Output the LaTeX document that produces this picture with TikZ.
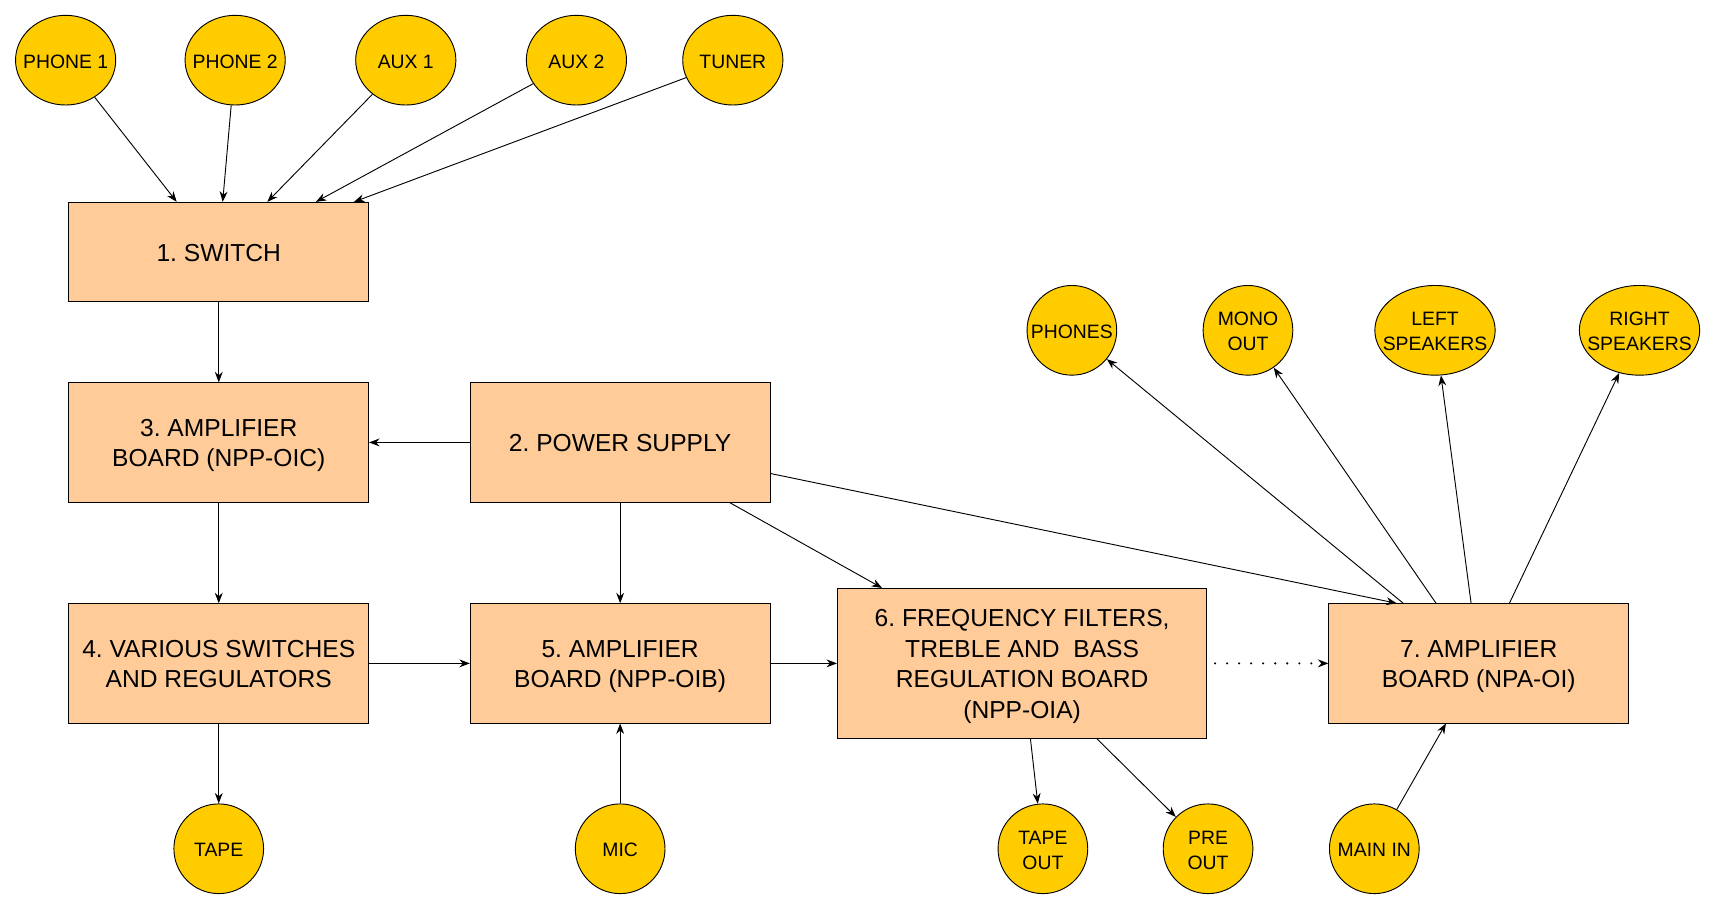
\documentclass[tikz,border=0pt]{standalone}
\usepackage{fontspec}
\setmainfont{Liberation Sans}
\usepackage{tikz}
\usetikzlibrary{arrows.meta, shapes.geometric}

\definecolor{boxfill}{HTML}{FFCC99}
\definecolor{portfill}{HTML}{FFCC00}
\frenchspacing

% centred lines, set a little low as in the drawing
\newcommand{\lines}[1]{\raisebox{-0.7mm}[\height][\depth]{\begin{tabular}{@{}c@{}}#1\end{tabular}}}
% text of an oval, kept from widening the oval
\newcommand{\portname}[1]{\makebox[0pt]{\lines{#1}}}

\begin{document}
\begin{tikzpicture}[x=0.25mm, y=-0.25mm, line width=0.6pt,
    block/.style={draw, fill=boxfill, inner sep=0pt, minimum width=68.5mm,
      minimum height=27.25mm, font=\fontsize{16}{19.8}\selectfont},
    port/.style={ellipse, draw, fill=portfill, inner sep=0pt, minimum width=20.5mm,
      minimum height=20.5mm, font=\fontsize{12.6}{16.3}\selectfont},
    wide/.style={minimum width=22.9mm},
    wider/.style={minimum width=27.5mm},
    link/.style={-{Stealth[length=2.4mm, width=1.8mm]}},
    dots/.style={line width=1.5pt, line cap=round, dash pattern=on 0pt off 2.75mm, dash phase=-1.8mm}]

      \useasboundingbox (0,0) rectangle (1568,831);

      % sources
      \node[port, wide] (ph1) at (60,55) {\portname{PHONE 1}};
      \node[port, wide] (ph2) at (215,55) {\portname{PHONE 2}};
      \node[port, wide] (aux1) at (371,55) {\portname{AUX 1}};
      \node[port, wide] (aux2) at (527,55) {\portname{AUX 2}};
      \node[port, wide] (tuner) at (670,55) {\portname{TUNER}};

      % boards
      \node[block, minimum height=22.75mm] (sw) at (200,230.5) {\lines{1. SWITCH}};
      \node[block] (amp3) at (200,404.5) {\lines{3. AMPLIFIER\\BOARD (NPP-OIC)}};
      \node[block] (ps) at (567,404.5) {\lines{2. POWER SUPPLY}};
      \node[block] (sr4) at (200,606.5) {\lines{4. VARIOUS SWITCHES\\AND REGULATORS}};
      \node[block] (amp5) at (567,606.5) {\lines{5. AMPLIFIER\\BOARD (NPP-OIB)}};
      \node[block, minimum width=84.4mm, minimum height=34.25mm] (flt6) at (934.5,606.5)
        {\lines{6. FREQUENCY FILTERS,\\TREBLE AND\ \ BASS\\REGULATION BOARD\\(NPP-OIA)}};
      \node[block] (amp7) at (1352,606.5) {\lines{7. AMPLIFIER\\BOARD (NPA-OI)}};

      % outputs
      \node[port] (phs) at (980,302) {\portname{PHONES}};
      \node[port] (mono) at (1141,302) {\portname{MONO\\OUT}};
      \node[port, wider] (lsp) at (1312,302) {\portname{LEFT\\SPEAKERS}};
      \node[port, wider] (rsp) at (1499,302) {\portname{RIGHT\\SPEAKERS}};

      \node[port] (tape) at (200,776) {\portname{TAPE}};
      \node[port] (mic) at (567,776) {\portname{MIC}};
      \node[port] (tout) at (953.5,776) {\portname{TAPE\\OUT}};
      \node[port] (pre) at (1104.5,776) {\portname{PRE\\OUT}};
      \node[port] (main) at (1256.5,776) {\portname{MAIN IN}};

      \draw[link] (ph1) -- ([xshift=-9.6mm]sw.north);
      \draw[link] (ph2) -- ([xshift=0.9mm]sw.north);
      \draw[link] (aux1) -- ([xshift=11.1mm]sw.north);
      \draw[link] (aux2) -- ([xshift=22.2mm]sw.north);
      \draw[link] (tuner) -- ([xshift=30.9mm]sw.north);

      \draw[link] (sw) -- (amp3);
      \draw[link] (ps) -- (amp3);
      \draw[link] (amp3) -- (sr4);
      \draw[link] (ps) -- (amp5);
      \draw[link] ([xshift=25mm]ps.south) -- ([xshift=-32mm]flt6.north);
      \draw[link] ([yshift=-7.1mm]ps.east) -- ([xshift=-18.75mm]amp7.north);

      \draw[link] (sr4) -- (amp5);
      \draw[link] (amp5) -- (flt6);
      \draw[link, dots] (flt6) -- (amp7);

      \draw[link] (sr4) -- (tape);
      \draw[link] (mic) -- (amp5);
      \draw[link] ([xshift=1.9mm]flt6.south) -- (tout);
      \draw[link] ([xshift=17.1mm]flt6.south) -- (pre);
      \draw[link] (main) -- ([xshift=-7.5mm]amp7.south);

      \draw[link] ([xshift=-17.25mm]amp7.north) -- (phs);
      \draw[link] ([xshift=-9.75mm]amp7.north) -- (mono);
      \draw[link] ([xshift=-1.75mm]amp7.north) -- (lsp);
      \draw[link] ([xshift=7mm]amp7.north) -- (rsp);

\end{tikzpicture}
\end{document}
